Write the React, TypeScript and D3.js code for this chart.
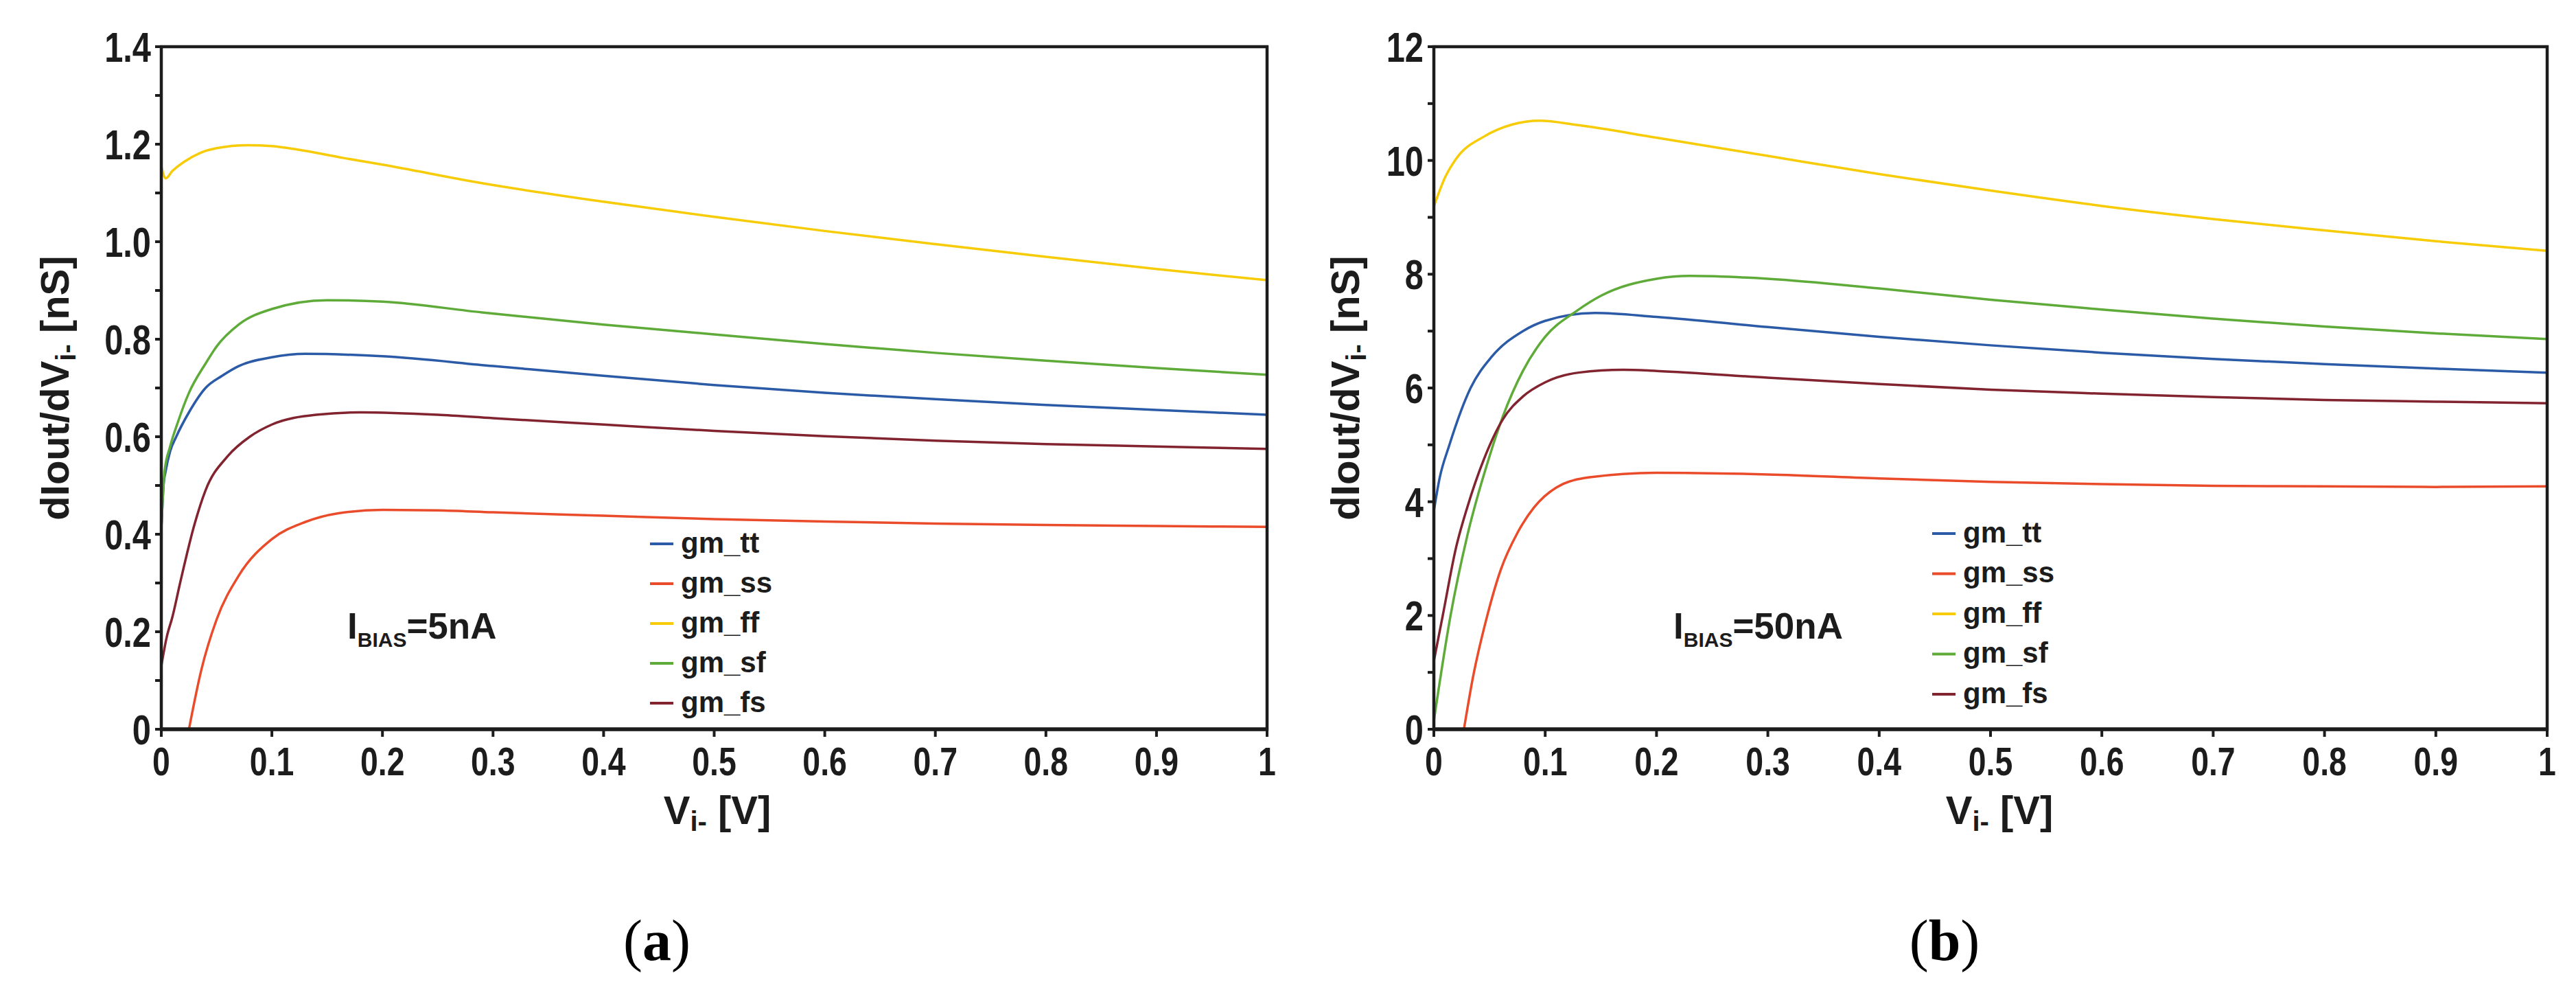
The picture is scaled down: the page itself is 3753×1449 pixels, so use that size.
import * as d3 from "d3";

// Vi- sweep [V] vs dIout/dVi- [nS]
// panel (a): IBIAS = 5nA
const tt5: [number, number][] = [[0, 0.41], [0.002, 0.5], [0.004, 0.53], [0.008, 0.57], [0.0135, 0.6], [0.025, 0.65], [0.04, 0.7], [0.055, 0.725], [0.07, 0.745], [0.1, 0.763], [0.13, 0.77], [0.2, 0.765], [0.3, 0.745], [0.4, 0.725], [0.5, 0.706], [0.6, 0.69], [0.7, 0.677], [0.8, 0.665], [0.9, 0.655], [1, 0.645]];
const ss5: [number, number][] = [[0.025, 0], [0.036, 0.12], [0.05, 0.225], [0.07, 0.315], [0.1, 0.39], [0.13, 0.425], [0.16, 0.443], [0.2, 0.45], [0.25, 0.449], [0.3, 0.445], [0.4, 0.438], [0.5, 0.431], [0.6, 0.426], [0.7, 0.422], [0.8, 0.419], [0.9, 0.417], [1, 0.415]];
const ff5: [number, number][] = [[0, 1.155], [0.004, 1.13], [0.01, 1.145], [0.02, 1.163], [0.035, 1.182], [0.05, 1.192], [0.078, 1.198], [0.1, 1.196], [0.123, 1.189], [0.164, 1.172], [0.2, 1.158], [0.29, 1.12], [0.4, 1.082], [0.5, 1.051], [0.6, 1.022], [0.7, 0.995], [0.8, 0.969], [0.9, 0.944], [1, 0.921]];
const sf5: [number, number][] = [[0, 0.41], [0.003, 0.53], [0.008, 0.58], [0.015, 0.63], [0.025, 0.69], [0.04, 0.75], [0.05, 0.785], [0.07, 0.83], [0.1, 0.862], [0.15, 0.88], [0.2, 0.877], [0.29, 0.855], [0.4, 0.83], [0.5, 0.81], [0.6, 0.79], [0.7, 0.772], [0.8, 0.756], [0.9, 0.741], [1, 0.727]];
const fs5: [number, number][] = [[0, 0.13], [0.005, 0.19], [0.01, 0.23], [0.017, 0.3], [0.03, 0.42], [0.04, 0.49], [0.06, 0.56], [0.08, 0.6], [0.1, 0.625], [0.14, 0.645], [0.18, 0.65], [0.25, 0.645], [0.3, 0.638], [0.4, 0.625], [0.5, 0.612], [0.6, 0.601], [0.7, 0.592], [0.8, 0.585], [0.9, 0.58], [1, 0.575]];

// panel (b): IBIAS = 50nA
const tt50: [number, number][] = [[0, 3.84], [0.005, 4.4], [0.014, 5.0], [0.033, 6.0], [0.052, 6.55], [0.08, 7.0], [0.1, 7.18], [0.145, 7.32], [0.2, 7.25], [0.3, 7.07], [0.4, 6.9], [0.5, 6.75], [0.6, 6.62], [0.7, 6.51], [0.8, 6.42], [0.9, 6.34], [1, 6.27]];
const ss50: [number, number][] = [[0.027, 0], [0.035, 0.9], [0.048, 2.0], [0.06, 2.8], [0.075, 3.45], [0.09, 3.9], [0.11, 4.25], [0.14, 4.43], [0.2, 4.51], [0.3, 4.48], [0.4, 4.41], [0.5, 4.35], [0.6, 4.31], [0.7, 4.28], [0.8, 4.27], [0.9, 4.26], [1, 4.27]];
const ff50: [number, number][] = [[0, 9.19], [0.01, 9.7], [0.02, 10.03], [0.045, 10.42], [0.07, 10.63], [0.095, 10.7], [0.13, 10.62], [0.2, 10.4], [0.3, 10.08], [0.4, 9.76], [0.5, 9.47], [0.6, 9.2], [0.7, 8.97], [0.8, 8.77], [0.9, 8.58], [1, 8.41]];
const sf50: [number, number][] = [[0, 0.15], [0.015, 2.0], [0.03, 3.4], [0.05, 4.8], [0.062, 5.5], [0.08, 6.3], [0.1, 6.9], [0.128, 7.35], [0.15, 7.62], [0.2, 7.92], [0.23, 7.97], [0.3, 7.92], [0.4, 7.75], [0.5, 7.55], [0.6, 7.38], [0.7, 7.22], [0.8, 7.08], [0.9, 6.96], [1, 6.86]];
const fs50: [number, number][] = [[0, 1.2], [0.008, 2.0], [0.02, 3.2], [0.03, 3.9], [0.045, 4.75], [0.062, 5.45], [0.08, 5.85], [0.1, 6.1], [0.13, 6.27], [0.17, 6.32], [0.2, 6.3], [0.3, 6.18], [0.4, 6.07], [0.5, 5.97], [0.6, 5.9], [0.7, 5.84], [0.8, 5.79], [0.9, 5.76], [1, 5.73]];

const seriesNames = ["gm_tt", "gm_ss", "gm_ff", "gm_sf", "gm_fs"];
const seriesColors = ["#2b5aa6", "#e94b2b", "#f7cc06", "#5fab3a", "#822430"];

const xTicks = [0, 0.1, 0.2, 0.3, 0.4, 0.5, 0.6, 0.7, 0.8, 0.9, 1];
const yTicksA = [0, 0.2, 0.4, 0.6, 0.8, 1.0, 1.2, 1.4];
const yTicksB = [0, 2, 4, 6, 8, 10, 12];

const labelFont = "'Liberation Sans', Arial, sans-serif";
const ink = "#1c1c1c";

const top = 68;
const bottom = 1062;

// tick numbers are set in a condensed bold face; squeeze Liberation Sans to get it
function NarrowText({ x, y, anchor, size, children }: { x: number; y: number; anchor: string; size: number; children: string }) {
  return (
    <g transform={`translate(${x},${y}) scale(0.8,1)`}>
      <text textAnchor={anchor} fontFamily={labelFont} fontWeight="bold" fontSize={size} fill={ink}>
        {children}
      </text>
    </g>
  );
}

type PanelProps = {
  id: string;
  left: number;
  right: number;
  series: [number, number][][];
  yMax: number;
  yTicks: number[];
  yMinorStep: number;
  yFmt: (v: number) => string;
  yLabelX: number;
  xLabelX: number;
  legendX: number;
  legendY: number;
  legendStep: number;
  biasX: number;
  biasText: string;
  caption: string;
  captionX: number;
};

function Panel(p: PanelProps) {
  const x = d3.scaleLinear().domain([0, 1]).range([p.left, p.right]);
  const y = d3.scaleLinear().domain([0, p.yMax]).range([bottom, top]);
  const line = d3
    .line<[number, number]>()
    .x((d) => x(d[0]))
    .y((d) => y(d[1]))
    .curve(d3.curveMonotoneX);
  const minor = d3.range(0, p.yMax + p.yMinorStep / 2, p.yMinorStep);
  const xFmt = (v: number) => (v === 0 || v === 1 ? String(v) : v.toFixed(1));
  const midY = (top + bottom) / 2;

  return (
    <g>
      <defs>
        <clipPath id={`clip-${p.id}`}>
          <rect x={p.left} y={top} width={p.right - p.left} height={bottom - top} />
        </clipPath>
      </defs>

      {/* curves */}
      <g clipPath={`url(#clip-${p.id})`} fill="none" strokeWidth={3.5}>
        {p.series.map((s, i) => (
          <path key={i} d={line(s) ?? ""} stroke={seriesColors[i]} />
        ))}
      </g>

      {/* frame */}
      <rect
        x={p.left}
        y={top}
        width={p.right - p.left}
        height={bottom - top}
        fill="none"
        stroke={ink}
        strokeWidth={4.5}
      />
      <line x1={p.left - 2} x2={p.right + 2} y1={bottom} y2={bottom} stroke={ink} strokeWidth={5.5} />

      {/* y ticks */}
      {minor.map((v) => (
        <line key={v} x1={p.left - 9} x2={p.left} y1={y(v)} y2={y(v)} stroke={ink} strokeWidth={4} />
      ))}
      {p.yTicks.map((v) => (
        <NarrowText key={v} x={p.left - 15} y={y(v) + 22} anchor="end" size={61}>
          {p.yFmt(v)}
        </NarrowText>
      ))}

      {/* x ticks */}
      {xTicks.map((v) => (
        <g key={v}>
          <line x1={x(v)} x2={x(v)} y1={bottom} y2={bottom + 11} stroke={ink} strokeWidth={4} />
          <NarrowText x={x(v)} y={1129} anchor="middle" size={58}>
            {xFmt(v)}
          </NarrowText>
        </g>
      ))}

      {/* axis titles */}
      <text
        transform={`translate(${p.yLabelX},${midY}) rotate(-90)`}
        textAnchor="middle"
        fontFamily={labelFont}
        fontWeight="bold"
        fontSize={58}
        fill={ink}
      >
        dIout/dV
        <tspan fontSize={40} dy={10}>i-</tspan>
        <tspan dy={-10}> [nS]</tspan>
      </text>
      <text
        x={p.xLabelX}
        y={1200}
        textAnchor="middle"
        fontFamily={labelFont}
        fontWeight="bold"
        fontSize={58}
        fill={ink}
      >
        V<tspan fontSize={40} dy={10}>i-</tspan>
        <tspan dy={-10}> [V]</tspan>
      </text>

      {/* bias note */}
      <text x={p.biasX} y={930} fontFamily={labelFont} fontWeight="bold" fontSize={53} fill={ink}>
        I<tspan fontSize={30} dy={12}>BIAS</tspan>
        <tspan dy={-12}>{p.biasText}</tspan>
      </text>

      {/* legend */}
      {seriesNames.map((name, i) => {
        const ly = p.legendY + i * p.legendStep;
        return (
          <g key={name}>
            <line x1={p.legendX} x2={p.legendX + 34} y1={ly} y2={ly} stroke={seriesColors[i]} strokeWidth={4} />
            <text
              x={p.legendX + 45}
              y={ly}
              dy="0.3em"
              fontFamily={labelFont}
              fontWeight="bold"
              fontSize={42}
              fill={ink}
            >
              {name}
            </text>
          </g>
        );
      })}

      {/* caption */}
      <text x={p.captionX} y={1398} textAnchor="middle" fontFamily="'Liberation Serif', 'Times New Roman', serif" fontSize={84} fill="#000">
        (<tspan fontWeight="bold">{p.caption}</tspan>)
      </text>
    </g>
  );
}

export default function App() {
  return (
    <svg
      width={3753}
      height={1449}
      style={{ position: "absolute", left: 0, top: 0, background: "#fff" }}
    >
      <rect width={3753} height={1449} fill="#fff" />
      <Panel
        id="a"
        left={235}
        right={1846}
        series={[tt5, ss5, ff5, sf5, fs5]}
        yMax={1.4}
        yTicks={yTicksA}
        yMinorStep={0.1}
        yFmt={(v) => (v === 0 ? "0" : v.toFixed(1))}
        yLabelX={100}
        xLabelX={1045}
        legendX={947}
        legendY={792}
        legendStep={58}
        biasX={506}
        biasText="=5nA"
        caption="a"
        captionX={957}
      />
      <Panel
        id="b"
        left={2089}
        right={3711}
        series={[tt50, ss50, ff50, sf50, fs50]}
        yMax={12}
        yTicks={yTicksB}
        yMinorStep={1}
        yFmt={(v) => String(v)}
        yLabelX={1980}
        xLabelX={2913}
        legendX={2815}
        legendY={777}
        legendStep={58.5}
        biasX={2438}
        biasText="=50nA"
        caption="b"
        captionX={2833}
      />
    </svg>
  );
}
